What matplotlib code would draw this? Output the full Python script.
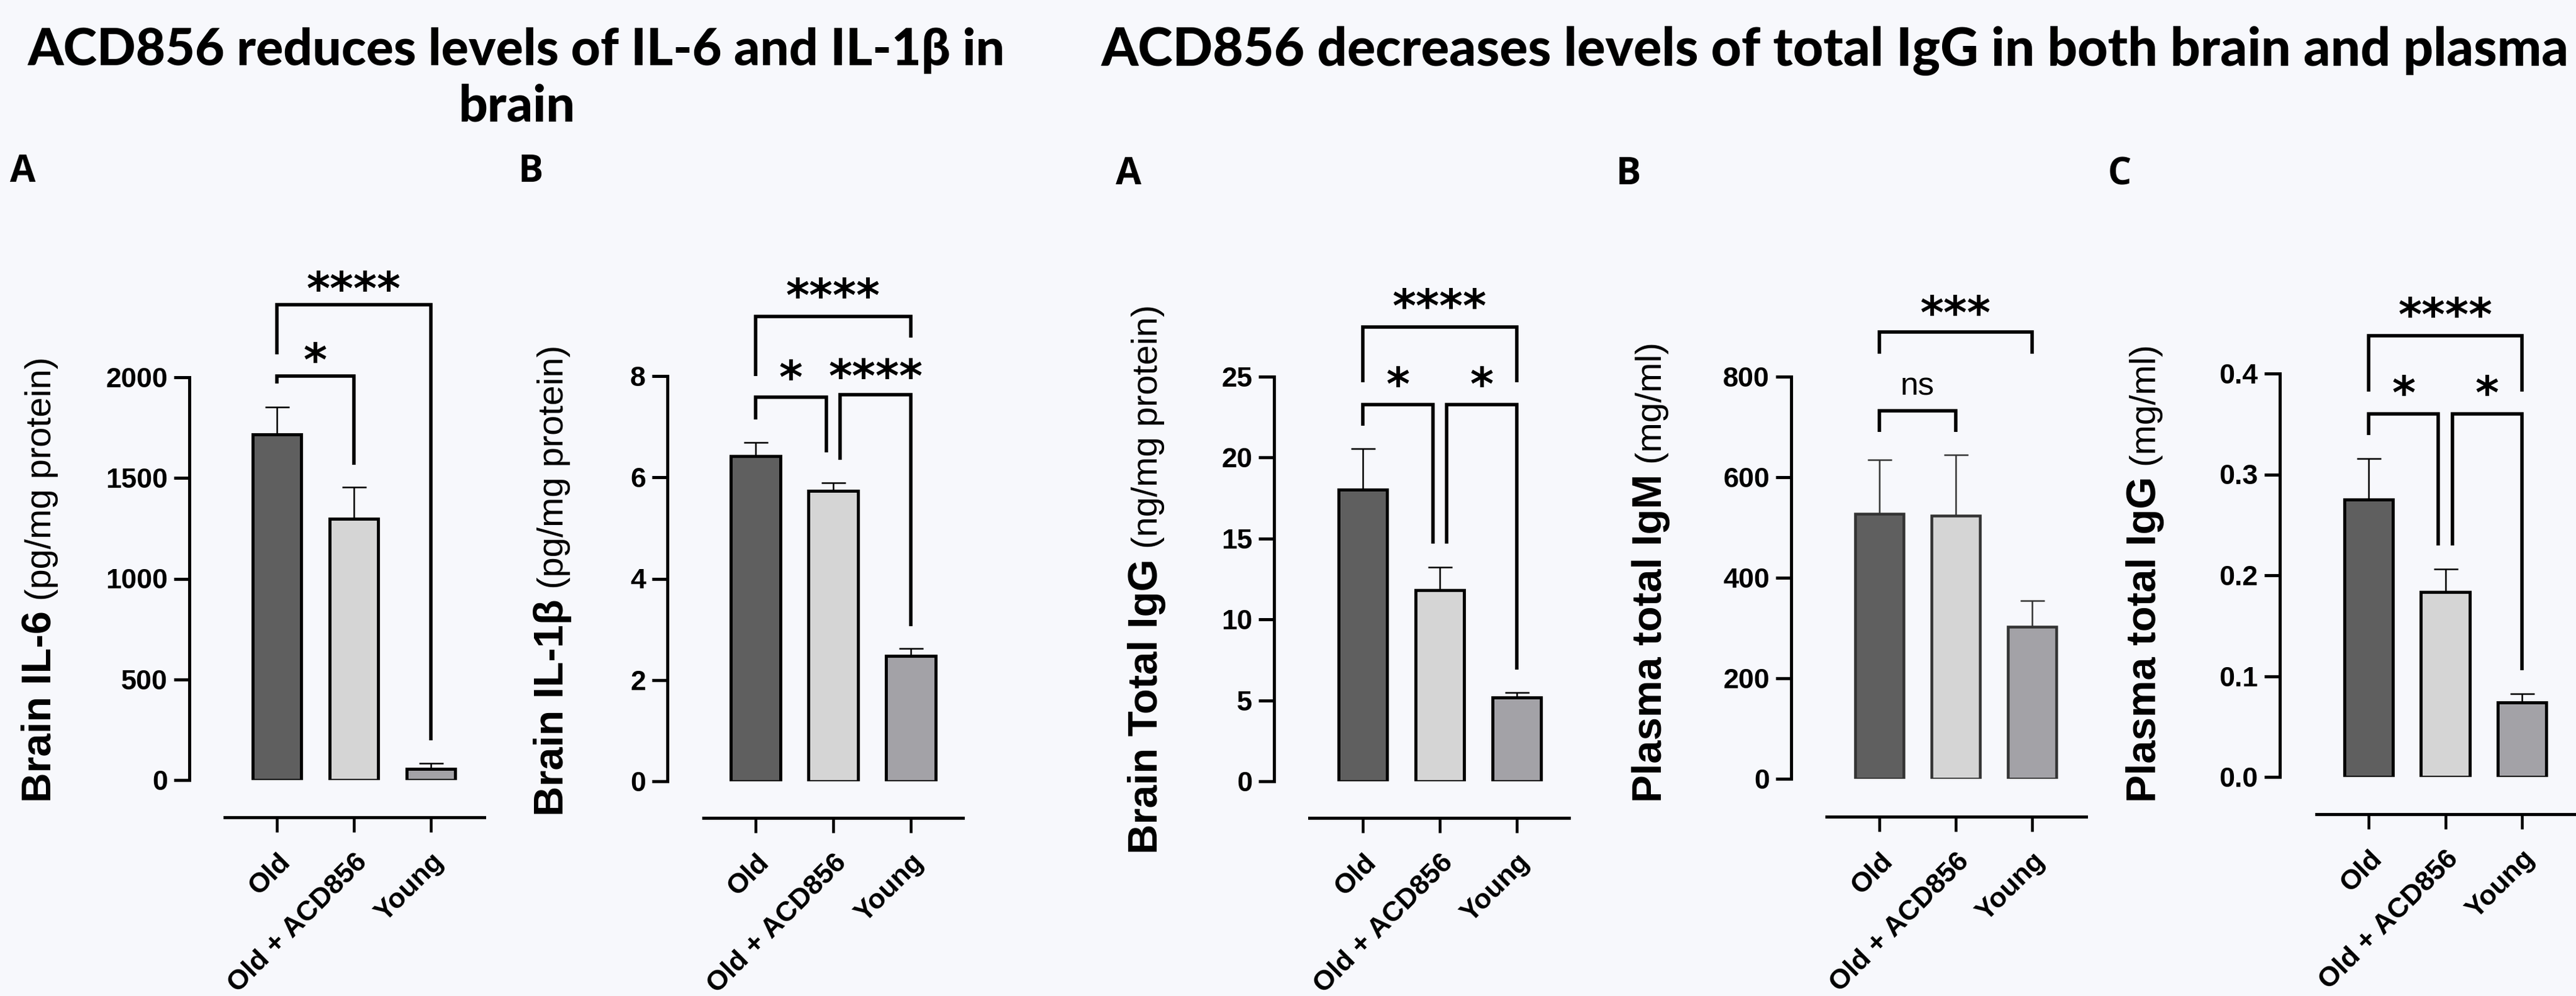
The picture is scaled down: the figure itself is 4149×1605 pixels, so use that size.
import matplotlib
matplotlib.use("Agg")
import matplotlib.pyplot as plt
import numpy as np
from matplotlib.textpath import TextPath
from matplotlib.font_manager import FontProperties

W, H = 4149, 1605
DPI = 72
BG = "#f7f8fc"

plt.rcParams['font.family'] = ['Liberation Sans', 'DejaVu Sans']
plt.rcParams['font.weight'] = 'bold'

# ---------------- data ----------------
categories = ["Old", "Old + ACD856", "Young"]
bar_colors = ["#5f5f5f", "#d5d5d5", "#a3a2a7"]

il6_mean = [1717, 1298, 54]
il6_err = [135, 156, 30]
il6_ticks = [0, 500, 1000, 1500, 2000]

il1b_mean = [6.42, 5.73, 2.47]
il1b_err = [0.27, 0.16, 0.15]
il1b_ticks = [0, 2, 4, 6, 8]

brain_igg_mean = [18.04, 11.81, 5.16]
brain_igg_err = [2.50, 1.43, 0.31]
brain_igg_ticks = [0, 5, 10, 15, 20, 25]

plasma_igm_mean = [527, 524, 302]
plasma_igm_err = [107, 120, 52]
plasma_igm_ticks = [0, 200, 400, 600, 800]

plasma_igg_mean = [0.2753, 0.1834, 0.0738]
plasma_igg_err = [0.0407, 0.0230, 0.0089]
plasma_igg_ticks = [0.0, 0.1, 0.2, 0.3, 0.4]

# significance brackets: (bar i, bar j, left leg end, top, right leg end, label, label centre)
il6_sig = [(0, 1, 1969, 2006, 1567, "*", 2124),
           (0, 2, 2115, 2361, 196, "****", 2478)]
il1b_sig = [(0, 1, 7.14, 7.58, 6.49, "*", 8.12),
            (1, 2, 6.35, 7.63, 3.06, "****", 8.15),
            (0, 2, 8.00, 9.18, 8.76, "****", 9.74)]
brain_igg_sig = [(0, 1, 21.97, 23.28, 14.67, "*", 25.0),
                 (1, 2, 14.67, 23.28, 6.90, "*", 25.0),
                 (0, 2, 24.67, 28.08, 24.67, "****", 29.85)]
plasma_igm_sig = [(0, 1, 690, 732, 690, "ns", 781),
                  (0, 2, 846, 889, 846, "***", 942)]
plasma_igg_sig = [(0, 1, 0.339, 0.360, 0.2294, "*", 0.3883),
                  (1, 2, 0.2294, 0.360, 0.1057, "*", 0.3883),
                  (0, 2, 0.3823, 0.4378, 0.3823, "****", 0.466)]

title_left = ["ACD856 reduces levels of IL-6 and IL-1β in", "brain"]
title_right = "ACD856 decreases levels of total IgG in both brain and plasma"

# ---------------- layout (pixels) ----------------
panels = [
    dict(mean=il6_mean, err=il6_err, ticks=il6_ticks, fmt="{:.0f}", sig=il6_sig,
         ylab=("Brain IL-6", " (pg/mg protein)"), ylx=82, yly=1293,
         axis_x=305, y0=1257, ytop=608, c0=446, c2=694, xl=362, xr=780, xy=1317,
         edge="black", letter="A", lx=16, ly=293),
    dict(mean=il1b_mean, err=il1b_err, ticks=il1b_ticks, fmt="{:.0f}", sig=il1b_sig,
         ylab=("Brain IL-1β", " (pg/mg protein)"), ylx=907, yly=1315,
         axis_x=1075, y0=1259, ytop=606, c0=1217, c2=1467, xl=1133, xr=1551, xy=1318,
         edge="black", letter="B", lx=835, ly=293),
    dict(mean=brain_igg_mean, err=brain_igg_err, ticks=brain_igg_ticks, fmt="{:.0f}", sig=brain_igg_sig,
         ylab=("Brain Total IgG", " (ng/mg protein)"), ylx=1864, yly=1376,
         axis_x=2052, y0=1259, ytop=607, c0=2195, c2=2443, xl=2109, xr=2527, xy=1318,
         edge="black", letter="A", lx=1797, ly=297),
    dict(mean=plasma_igm_mean, err=plasma_igm_err, ticks=plasma_igm_ticks, fmt="{:.0f}", sig=plasma_igm_sig,
         ylab=("Plasma total IgM", " (mg/ml)"), ylx=2676, yly=1293,
         axis_x=2885, y0=1255, ytop=607, c0=3027, c2=3273, xl=2942, xr=3360, xy=1316,
         edge="#333333", letter="B", lx=2603, ly=297),
    dict(mean=plasma_igg_mean, err=plasma_igg_err, ticks=plasma_igg_ticks, fmt="{:.1f}", sig=plasma_igg_sig,
         ylab=("Plasma total IgG", " (mg/ml)"), ylx=3472, yly=1293,
         axis_x=3672, y0=1252, ytop=602, c0=3815, c2=4062, xl=3731, xr=4149, xy=1312,
         edge="black", letter="C", lx=3395, ly=297),
]

fig = plt.figure(figsize=(W / DPI, H / DPI), dpi=DPI, facecolor=BG)
renderer = fig.canvas.get_renderer()


def fx(x):
    return x / W


def fy(y):
    return 1 - y / H


# size the star glyph so consecutive stars sit ~38 px apart; measure ink centres
AST_FAMILY = 'DejaVu Sans'
AST_FP = FontProperties(family=AST_FAMILY, weight='bold', size=100)
_e1 = TextPath((0, 0), "*", prop=AST_FP).get_extents()
_e2 = TextPath((0, 0), "**", prop=AST_FP).get_extents()
_adv100 = _e2.width - _e1.width
AST_SIZE = 100 * 38.0 / _adv100
AST_CY = (_e1.y0 + _e1.y1) / 2 * AST_SIZE / 100
NS_SIZE = 52
NS_FP = FontProperties(family='Liberation Sans', weight='normal', size=NS_SIZE)
_n = TextPath((0, 0), "ns", prop=NS_FP).get_extents()
NS_CY = (_n.y0 + _n.y1) / 2

LEG_OFF = 0.09

for p in panels:
    s = (p['c2'] - p['c0']) / 2.0
    left, right = p['axis_x'], p['xr']
    ax = fig.add_axes([fx(left), fy(p['y0']), (right - left) / W, (p['y0'] - p['ytop']) / H])
    ax.set_facecolor('none')
    ymax = p['ticks'][-1]
    ax.set_xlim((left - p['c0']) / s, (right - p['c0']) / s)
    ax.set_ylim(0, ymax)

    x = np.arange(len(categories))
    ax.bar(x, p['mean'], width=0.635, color=bar_colors, edgecolor=p['edge'],
           linewidth=5 if p['edge'] == 'black' else 4.5, zorder=2)
    ax.errorbar(x, p['mean'], yerr=[np.zeros(3), p['err']], fmt='none',
                ecolor=p['edge'], elinewidth=2.5, capsize=19.5, capthick=2.5, zorder=1)

    for sp in ('top', 'right'):
        ax.spines[sp].set_visible(False)
    ax.spines['left'].set_linewidth(5)
    ax.spines['left'].set_bounds(0, ymax)
    ax.spines['bottom'].set_linewidth(5)
    ax.spines['bottom'].set_position(('outward', p['xy'] - p['y0']))
    ax.spines['bottom'].set_bounds((p['xl'] - p['c0']) / s, (right - p['c0']) / s)

    ax.set_yticks(p['ticks'])
    ax.set_yticklabels([p['fmt'].format(t) for t in p['ticks']])
    ax.tick_params(axis='y', length=25, width=5, pad=10, labelsize=45)
    ax.set_xticks(x)
    ax.set_xticklabels(categories, rotation=45, ha='right', va='top', rotation_mode='anchor')
    ax.tick_params(axis='x', length=24, width=4.5, pad=27, labelsize=45)

    # significance brackets
    pairs = [(b[0], b[1]) for b in p['sig']]
    for (i, j, yl, yt, yr, lab, lc) in p['sig']:
        xi, xj = float(i), float(j)
        if j == i + 1:
            if (i - 1, i) in pairs:
                xi += LEG_OFF
            if (j, j + 1) in pairs:
                xj -= LEG_OFF
        ax.plot([xi, xi, xj, xj], [yl, yt, yt, yr], color='black', lw=5.5,
                clip_on=False, solid_joinstyle='miter', solid_capstyle='butt', zorder=3)
        xm = (xi + xj) / 2
        if lab == 'ns':
            ax.annotate(lab, xy=(xm, lc), xytext=(0, -NS_CY), textcoords='offset points',
                        ha='center', va='baseline', fontsize=NS_SIZE, fontweight='normal',
                        family='Liberation Sans', annotation_clip=False)
        else:
            ax.annotate(lab, xy=(xm, lc), xytext=(0, -AST_CY), textcoords='offset points',
                        ha='center', va='baseline', fontsize=AST_SIZE, fontweight='bold',
                        family=AST_FAMILY, annotation_clip=False)

    # y label: bold name + regular unit
    bname, unit = p['ylab']
    t1 = fig.text(fx(p['ylx']), fy(p['yly']), bname, rotation=90, rotation_mode='anchor',
                  ha='left', va='baseline', fontsize=67, fontweight='bold')
    h1 = t1.get_window_extent(renderer).height
    fig.text(fx(p['ylx']), fy(p['yly'] - h1), unit, rotation=90, rotation_mode='anchor',
             ha='left', va='baseline', fontsize=58, fontweight='normal')

    # panel letter
    fig.text(fx(p['lx']), fy(p['ly']), p['letter'], ha='left', va='baseline',
             fontsize=60, family=['Open Sans', 'DejaVu Sans'], fontweight='bold')


# ---------------- titles ----------------
TITLE_FAMILY = ['Lato', 'Open Sans', 'DejaVu Sans']


def fitted_text(xc, yb, s, target_w):
    t = fig.text(fx(xc), fy(yb), s, ha='center', va='baseline', fontsize=60,
                 family=TITLE_FAMILY, fontweight='black')
    w = t.get_window_extent(renderer).width
    t.set_fontsize(60 * target_w / w)
    return t


tl = fitted_text(832, 105, title_left[0], 1572)
fig.text(fx(832), fy(195), title_left[1], ha='center', va='baseline', fontsize=tl.get_fontsize(),
         family=TITLE_FAMILY, fontweight='black')
fitted_text(2956, 106, title_right, 2362)

fig.savefig("out.png", dpi=DPI, facecolor=BG)
